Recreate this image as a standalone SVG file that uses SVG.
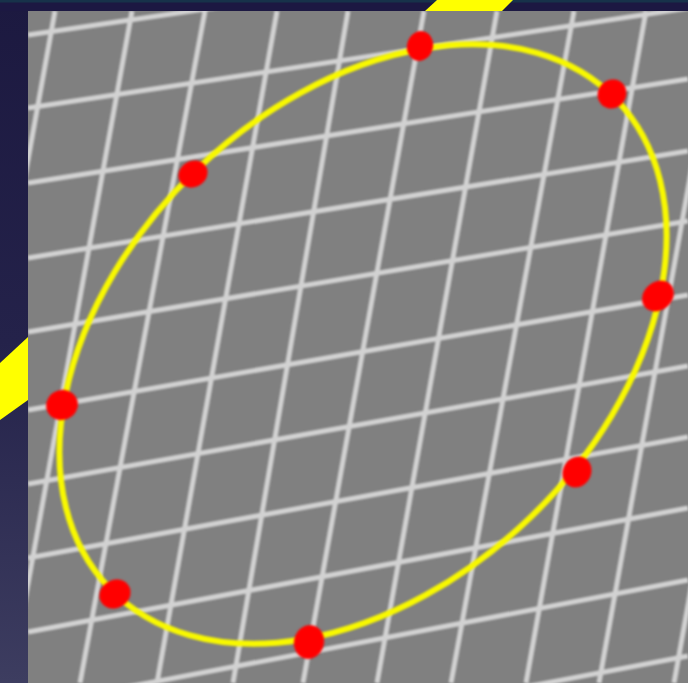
<svg xmlns="http://www.w3.org/2000/svg" width="688" height="683" viewBox="0 0 688 683">
  <defs>
    <linearGradient id="bgGrad" x1="0" y1="0" x2="0" y2="1">
      <stop offset="0" stop-color="#1c1940"/>
      <stop offset="0.5" stop-color="#24224a"/>
      <stop offset="1" stop-color="#3d3d60"/>
    </linearGradient>
    <clipPath id="panelClip">
      <rect x="28" y="11" width="660" height="672"/>
    </clipPath>
    <filter id="soft" x="-5%" y="-5%" width="110%" height="110%">
      <feGaussianBlur stdDeviation="0.8"/>
    </filter>
  </defs>
  <style>
    .grid line { stroke: #d2d2d2; stroke-width: 5; stroke-linecap: butt; }
    .stripe { fill: #ffff00; }
    .dot { fill: #ff0000; }
    .curve { fill: none; stroke: #f8f800; stroke-width: 6; }
  </style>

  <!-- background -->
  <rect x="0" y="0" width="688" height="683" fill="url(#bgGrad)"/>
  <rect x="0" y="0" width="688" height="11" fill="#1c1842"/>
  <rect x="0" y="0" width="688" height="2.5" fill="#173a4c" opacity="0.8"/>

  <!-- yellow stripes outside panel -->
  <polygon class="stripe" points="437,0 513,0 502,11 425,11"/>
  <polygon class="stripe" points="0,363 28,337 28,400 0,420"/>

  <!-- gray panel -->
  <g id="panel" clip-path="url(#panelClip)">
    <rect x="28" y="11" width="660" height="672" fill="#808080"/>
    <g class="grid" filter="url(#soft)">
      <!-- near-vertical lines -->
      <line x1="55" y1="11" x2="-67" y2="683"/>
      <line x1="132" y1="11" x2="10" y2="683"/>
      <line x1="205" y1="11" x2="80" y2="683"/>
      <line x1="277" y1="11" x2="157" y2="683"/>
      <line x1="348" y1="11" x2="233" y2="683"/>
      <line x1="424" y1="11" x2="303" y2="683"/>
      <line x1="497" y1="11" x2="377" y2="683"/>
      <line x1="574" y1="11" x2="451" y2="683"/>
      <line x1="646" y1="11" x2="526" y2="683"/>
      <line x1="720" y1="11" x2="599" y2="683"/>
      <line x1="795" y1="11" x2="674" y2="683"/>
      <!-- near-horizontal lines -->
      <line x1="28" y1="35" x2="688" y2="-62"/>
      <line x1="28" y1="108" x2="688" y2="8"/>
      <line x1="28" y1="183" x2="688" y2="79"/>
      <line x1="28" y1="258" x2="688" y2="151"/>
      <line x1="28" y1="332" x2="688" y2="221"/>
      <line x1="28" y1="410" x2="688" y2="295"/>
      <line x1="28" y1="484" x2="688" y2="366"/>
      <line x1="28" y1="558" x2="688" y2="437"/>
      <line x1="28" y1="632" x2="688" y2="508"/>
      <line x1="28" y1="706" x2="688" y2="580"/>
      <line x1="28" y1="782" x2="688" y2="656"/>
    </g>
  </g>

  <!-- yellow ellipse -->
  <g id="ellipse" filter="url(#soft)">
    <ellipse class="curve" cx="363" cy="344" rx="352" ry="241" transform="rotate(-44 363 344)"/>
  </g>

  <!-- red points -->
  <g id="points" filter="url(#soft)">
    <ellipse id="p1" class="dot" cx="420" cy="46" rx="13" ry="15" transform="rotate(15 420 46)"/>
    <ellipse id="p2" class="dot" cx="612" cy="94" rx="14" ry="15" transform="rotate(40 612 94)"/>
    <ellipse id="p3" class="dot" cx="193" cy="174" rx="15" ry="13" transform="rotate(-30 193 174)"/>
    <ellipse id="p4" class="dot" cx="658" cy="296" rx="17" ry="14" transform="rotate(-40 658 296)"/>
    <ellipse id="p5" class="dot" cx="62" cy="405" rx="16" ry="15" transform="rotate(-20 62 405)"/>
    <ellipse id="p6" class="dot" cx="577" cy="472" rx="14" ry="16" transform="rotate(30 577 472)"/>
    <ellipse id="p7" class="dot" cx="115" cy="594" rx="16" ry="14" transform="rotate(-30 115 594)"/>
    <ellipse id="p8" class="dot" cx="309" cy="642" rx="15" ry="17" transform="rotate(15 309 642)"/>
  </g>
</svg>
